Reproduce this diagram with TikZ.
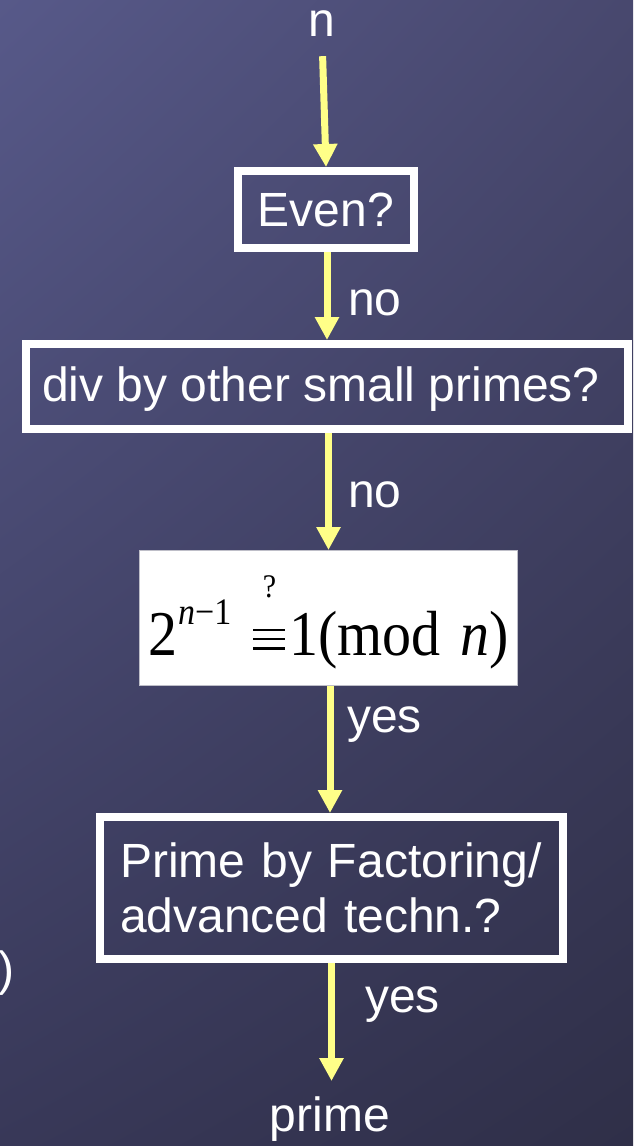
\documentclass[tikz,border=0pt]{standalone}
\usepackage{fontspec}
\usepackage{graphicx}
\setmainfont{Liberation Sans}
\newfontfamily\tms{Liberation Serif}
\usetikzlibrary{arrows.meta,calc,shadings}
\definecolor{bgUL}{RGB}{87,89,137}
\definecolor{bgUR}{RGB}{72,72,110}
\definecolor{bgLL}{RGB}{56,56,88}
\definecolor{bgLR}{RGB}{47,47,72}
\definecolor{arrowyellow}{RGB}{255,255,136}
\definecolor{eqedge}{RGB}{190,190,200}
\newcommand\myequiv{\hspace{1pt}\rlap{\rule[5pt]{32pt}{2.6pt}}\rlap{\rule[13.2pt]{32pt}{2.6pt}}\rule[21.4pt]{32pt}{2.6pt}\hspace{1pt}}
\tikzset{
  stepbox/.style={draw=white, line width=8pt, inner sep=0pt, text=white,
    font=\fontsize{48}{55}\selectfont},
  lbl/.style={text=white, inner sep=0pt, anchor=base west,
    font=\fontsize{48}{55}\selectfont},
  arr/.style={draw=arrowyellow, line width=7pt,
    -{Triangle[width=23pt,length=23pt]}},
}
\begin{document}
\begin{tikzpicture}[x=1pt,y=-1pt]
\useasboundingbox (0,0) rectangle (633,1146);
\shade[upper left=bgUL, upper right=bgUR, lower left=bgLL, lower right=bgLR]
  (0,0) rectangle (633,1146);

\node[lbl, anchor=base] (n) at (322,36) {n};
\node[stepbox, minimum width=176pt, minimum height=77pt, text height=33pt, text depth=0pt]
  (even) at (326,209.5) {Even?};
\node[stepbox, minimum width=602pt, minimum height=85pt, text height=34pt, text depth=5pt]
  (div) at (327,386.5) {div by other small primes?\rule{12pt}{0pt}};
\node[draw=eqedge, fill=white, line width=1pt, inner sep=0pt, text=black,
  minimum width=378pt, minimum height=135pt, text height=80pt, text depth=6pt]
  (mbox) at (328.5,618)
  {\scalebox{1}[1.1]{\tms\fontsize{58}{64}\selectfont 2\hspace{1pt}\raisebox{27.3pt}{\fontsize{34}{34}\selectfont\itshape n\upshape −1}\hspace{21pt}\ooalign{\myequiv\cr\hidewidth\raisebox{52.7pt}{\fontsize{30}{30}\selectfont ?}\hidewidth\cr}\hspace{2.6pt}1(mod\hspace{20pt}\textit{n})}};
\node[stepbox, minimum width=463pt, minimum height=142pt, text width=423pt, align=left]
  (pbox) at (331.5,888) {Prime by Factoring/\\advanced techn.?};
\node[lbl, anchor=base] (prime) at (330,1131) {prime};

\node[lbl] (no1) at (348,315) {no};
\node[lbl] (no2) at (348,507) {no};
\node[lbl] (yes1) at (347,732) {yes};
\node[lbl] (yes2) at (365,1012) {yes};
\node[lbl] (paren) at (-2,985) {)};

\draw[arr, shorten <=20pt] (n.south) -- (even.north);
\draw[arr] ([xshift=1pt]even.south) -- ([xshift=1pt]even.south |- div.north);
\draw[arr] (mbox.north |- div.south) -- (mbox.north);
\draw[arr] ([xshift=1.5pt]mbox.south) -- ([xshift=1.5pt]mbox.south |- pbox.north);
\draw[arr, shorten >=15pt] (pbox.south) -- (pbox.south |- prime.north);
\end{tikzpicture}
\end{document}
